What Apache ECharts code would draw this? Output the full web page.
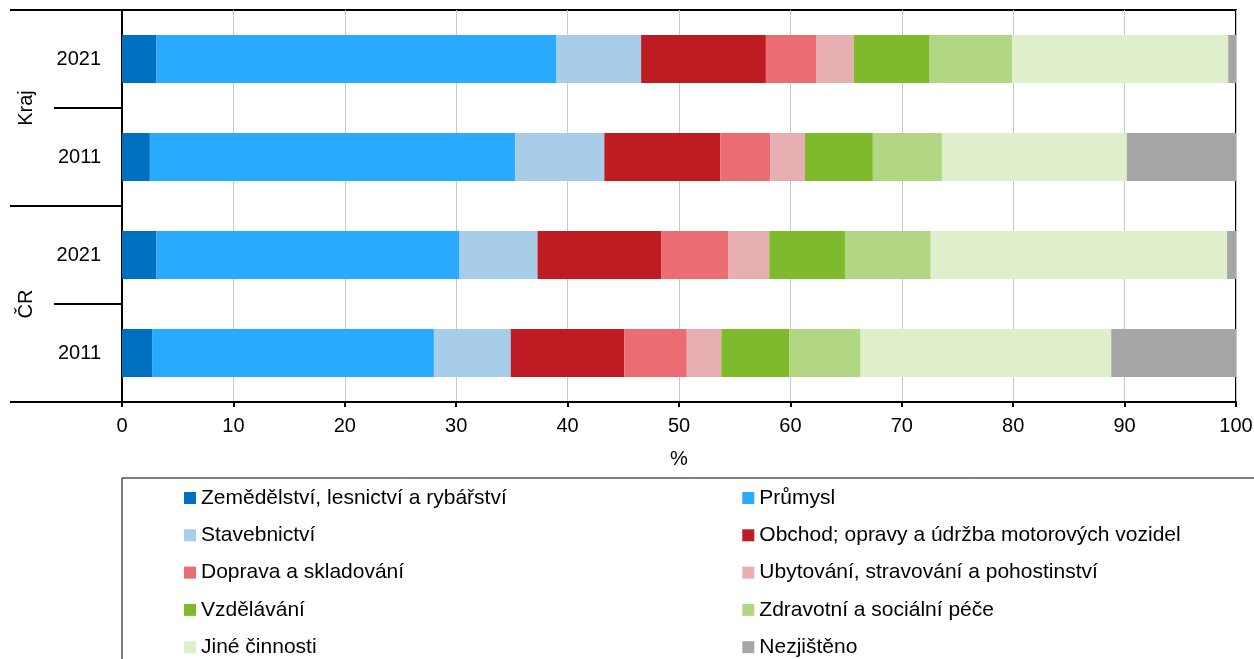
<!DOCTYPE html>
<html>
<head>
<meta charset="utf-8">
<script src="https://cdn.jsdelivr.net/npm/echarts@6/dist/echarts.min.js"></script>
<style>html,body{margin:0;padding:0;background:#fff}#c{width:1254px;height:659px}</style>
</head>
<body>
<div id="c"></div>
<script>
// categories (bottom to top)
const categories = ['ČR 2011', 'ČR 2021', 'Kraj 2011', 'Kraj 2021'];
const groups = ['ČR', 'Kraj'];
const seriesNames = [
  'Zemědělství, lesnictví a rybářství', 'Průmysl', 'Stavebnictví',
  'Obchod; opravy a údržba motorových vozidel', 'Doprava a skladování',
  'Ubytování, stravování a pohostinství', 'Vzdělávání', 'Zdravotní a sociální péče',
  'Jiné činnosti', 'Nezjištěno'
];
// values in %, order: ČR 2011, ČR 2021, Kraj 2011, Kraj 2021
const zemedelstvi = [2.7, 3.1, 2.5, 3.1];
const prumysl     = [25.3, 27.2, 32.8, 35.9];
const stavebnictvi= [6.9, 7.0, 8.0, 7.6];
const obchod      = [10.2, 11.1, 10.4, 11.2];
const doprava     = [5.6, 6.0, 4.5, 4.5];
const ubytovani   = [3.1, 3.7, 3.1, 3.4];
const vzdelavani  = [6.1, 6.8, 6.1, 6.8];
const zdravotni   = [6.4, 7.7, 6.2, 7.4];
const jine        = [22.5, 26.6, 16.6, 19.4];
const nezjisteno  = [11.2, 0.8, 9.8, 0.7];
const xTicks = [0, 10, 20, 30, 40, 50, 60, 70, 80, 90, 100];

const values = [zemedelstvi, prumysl, stavebnictvi, obchod, doprava, ubytovani, vzdelavani, zdravotni, jine, nezjisteno];
const colors = ['#0070c0', '#29aaff', '#a8cde8', '#be1b22', '#eb6c73', '#e7afb2', '#7fba2c', '#b1d684', '#dfeecb', '#a6a6a6'];

const FONT = 'Liberation Sans, Arial, sans-serif';
const chart = echarts.init(document.getElementById('c'), null, {renderer: 'canvas'});
chart.setOption({
  animation: false,
  color: colors,
  grid: {left: 122, right: 18, top: 10, bottom: 257, show: true, borderColor: '#000', borderWidth: 2,
    containLabel: false, outerBoundsMode: 'none'},
  xAxis: {
    type: 'value', min: xTicks[0], max: xTicks[xTicks.length - 1], interval: 10,
    name: '%', nameLocation: 'middle', nameGap: 47,
    nameTextStyle: {fontSize: 20, color: '#000', fontFamily: FONT},
    axisLine: {show: true, lineStyle: {color: '#000', width: 2}},
    axisTick: {show: true, length: 5, lineStyle: {color: '#000', width: 2}},
    axisLabel: {fontSize: 20, color: '#000', fontFamily: FONT, margin: 14},
    splitLine: {show: true, lineStyle: {color: '#c8c8c8', width: 1}}
  },
  yAxis: [{
    type: 'category', data: categories, position: 'left',
    axisLine: {show: true, lineStyle: {color: '#000', width: 2}},
    axisTick: {show: true, length: 68, lineStyle: {color: '#000', width: 2}},
    axisLabel: {fontSize: 20, color: '#000', fontFamily: FONT, margin: 21,
      formatter: v => v.split(' ')[1]},
    splitLine: {show: false}
  }, {
    type: 'category', data: groups, position: 'left',
    axisLine: {show: false},
    axisTick: {show: true, length: 112, lineStyle: {color: '#000', width: 2}},
    axisLabel: {fontSize: 20, color: '#000', fontFamily: FONT, margin: 86, rotate: 90},
    splitLine: {show: false}
  }],
  legend: {
    left: 122, top: 478, orient: 'horizontal', width: 1130,
    padding: [9, 200, 40, 62],
    borderColor: '#000', borderWidth: 1,
    itemWidth: 12, itemHeight: 12, itemGap: 15.3,
    icon: 'rect',
    textStyle: {fontSize: 21, color: '#000', fontFamily: FONT, width: 526, lineHeight: 22},
    data: seriesNames
  },
  series: seriesNames.map((n, i) => ({
    name: n, type: 'bar', stack: 'total', barWidth: '49%', yAxisIndex: 0,
    data: values[i], itemStyle: {color: colors[i]}
  }))
});
</script>
</body>
</html>
